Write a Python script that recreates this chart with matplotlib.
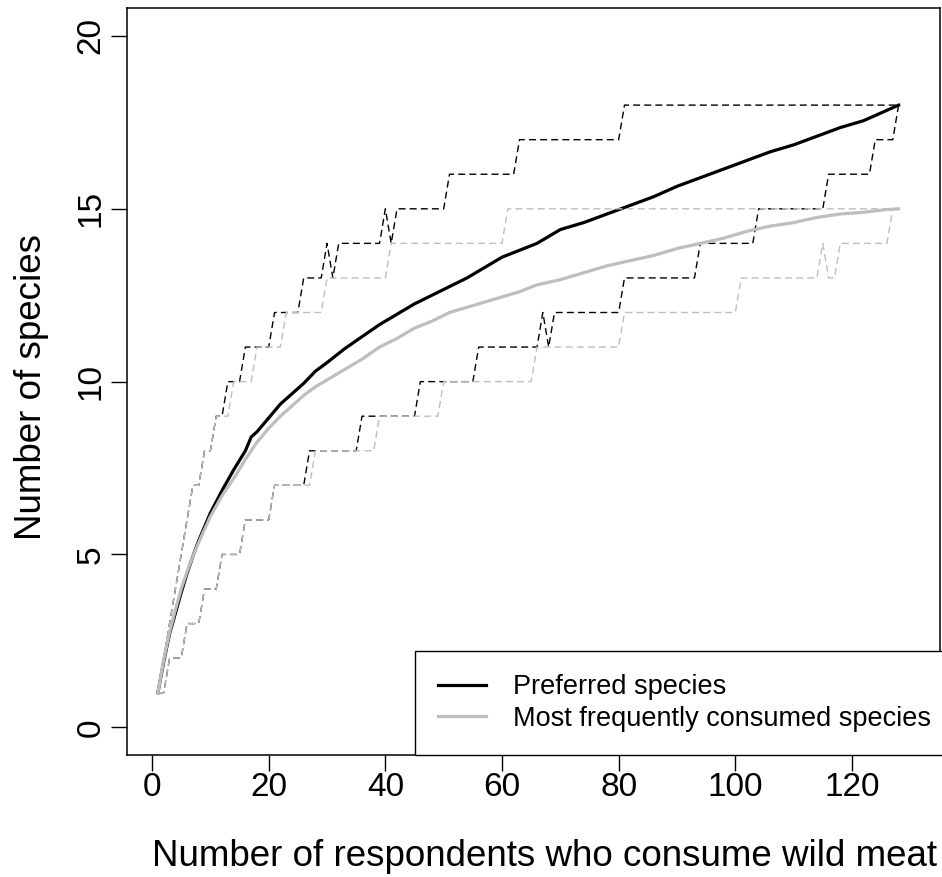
import matplotlib
matplotlib.use("Agg")
import matplotlib.pyplot as plt
import numpy as np

plt.rcParams['font.family'] = ['Liberation Sans', 'DejaVu Sans']

# mean accumulation curves
resp_x = [1, 2, 3, 4, 5, 6, 7, 8, 10, 12, 14, 16, 17, 18, 20, 22, 24, 26, 28, 30,
          33, 36, 39, 42, 45, 48, 51, 54, 57, 60, 63, 66, 70, 74, 78, 82, 86, 90,
          94, 98, 102, 106, 110, 114, 118, 122, 126, 128]
pref_mean = [1.0, 1.9, 2.7, 3.3, 3.9, 4.45, 4.95, 5.4, 6.2, 6.85, 7.45, 8.0, 8.4, 8.55,
             8.95, 9.35, 9.65, 9.95, 10.3, 10.55, 10.95, 11.3, 11.65, 11.95, 12.25,
             12.5, 12.75, 13.0, 13.3, 13.6, 13.8, 14.0, 14.4, 14.6, 14.85, 15.1,
             15.35, 15.65, 15.9, 16.15, 16.4, 16.65, 16.85, 17.1, 17.35, 17.55,
             17.85, 18.0]
freq_mean = [1.0, 1.95, 2.75, 3.4, 4.0, 4.5, 4.95, 5.35, 6.1, 6.7, 7.2, 7.75, 8.0, 8.25,
             8.65, 9.0, 9.3, 9.6, 9.85, 10.05, 10.35, 10.65, 11.0, 11.25, 11.55,
             11.75, 12.0, 12.15, 12.3, 12.45, 12.6, 12.8, 12.95, 13.15, 13.35, 13.5,
             13.65, 13.85, 14.0, 14.15, 14.35, 14.5, 14.6, 14.75, 14.85, 14.9,
             14.98, 15.0]

# bounds as runs: (level, first respondent, last respondent)
pref_hi = [(1, 1, 1), (2, 2, 2), (3, 3, 3), (4, 4, 4), (5, 5, 5), (6, 6, 6), (7, 7, 8),
           (8, 9, 10), (9, 11, 12), (10, 13, 15), (11, 16, 20), (12, 21, 25),
           (13, 26, 29), (14, 30, 30), (13, 31, 31), (14, 32, 39), (15, 40, 40),
           (14, 41, 41), (15, 42, 50), (16, 51, 62), (17, 63, 80), (18, 81, 128)]
pref_lo = [(1, 1, 2), (2, 3, 5), (3, 6, 8), (4, 9, 11), (5, 12, 15), (6, 16, 20),
           (7, 21, 26), (8, 27, 35), (9, 36, 45), (10, 46, 55), (11, 56, 66),
           (12, 67, 67), (11, 68, 68), (12, 69, 80), (13, 81, 93), (14, 94, 103),
           (15, 104, 115), (16, 116, 123), (17, 124, 127), (18, 128, 128)]
freq_hi = [(1, 1, 1), (2, 2, 2), (3, 3, 3), (4, 4, 4), (5, 5, 5), (6, 6, 6), (7, 7, 8),
           (8, 9, 10), (9, 11, 13), (10, 14, 17), (11, 18, 22), (12, 23, 29),
           (13, 30, 40), (14, 41, 60), (15, 61, 128)]
freq_lo = [(1, 1, 2), (2, 3, 5), (3, 6, 8), (4, 9, 11), (5, 12, 15), (6, 16, 20),
           (7, 21, 27), (8, 28, 38), (9, 39, 49), (10, 50, 65), (11, 66, 80),
           (12, 81, 100), (13, 101, 114), (14, 115, 115), (13, 116, 117),
           (14, 118, 126), (15, 127, 128)]

labels = ["Preferred species", "Most frequently consumed species"]
x_ticks = [0, 20, 40, 60, 80, 100, 120]
y_ticks = [0, 5, 10, 15, 20]


def runs_to_series(runs):
    xs, ys = [], []
    for lev, a, b in runs:
        for i in range(a, b + 1):
            xs.append(i)
            ys.append(lev)
    return xs, ys


grey = "#bebebe"
dash = (0, (5, 3))

fig = plt.figure(figsize=(9.42, 8.77), dpi=100)
ax = fig.add_axes([0.1348, 0.1392, 0.8631, 0.8513])

ax.plot(resp_x, pref_mean, color="black", lw=2.3, label=labels[0])
for r in [pref_hi, pref_lo]:
    xs, ys = runs_to_series(r)
    ax.plot(xs, ys, color="black", lw=1.0, linestyle=dash)
ax.plot(resp_x, freq_mean, color=grey, lw=2.3, label=labels[1])
for r in [freq_hi, freq_lo]:
    xs, ys = runs_to_series(r)
    ax.plot(xs, ys, color=grey, lw=1.0, linestyle=dash)

ax.set_xlim(-4.3, 135.1)
ax.set_ylim(-0.8, 20.8)
ax.set_xticks(x_ticks)
ax.set_yticks(y_ticks)
ax.tick_params(length=11.5, width=1.0, labelsize=24, direction="out")
ax.tick_params(axis="x", pad=1)
ax.tick_params(axis="y", pad=3)
for t in ax.get_yticklabels():
    t.set_rotation(90)
    t.set_va("center")
for s in ax.spines.values():
    s.set_linewidth(1.1)

fig.text(544 / 942, 1 - 857 / 877, "Number of respondents who consume wild meat",
         ha="center", va="center", fontsize=26.5)
fig.text(32 / 942, 1 - 387 / 877, "Number of species", rotation=90,
         ha="center", va="center", fontsize=26.5)

leg = ax.legend(loc="lower right", bbox_to_anchor=(1 + 14 / 813, 0),
                borderaxespad=0, fontsize=19.5, fancybox=False,
                edgecolor="black", framealpha=1, handlelength=1.77,
                handletextpad=1.0, borderpad=0.85, labelspacing=0.2)
leg.get_frame().set_linewidth(1.0)

fig.savefig("out.png", dpi=100)
